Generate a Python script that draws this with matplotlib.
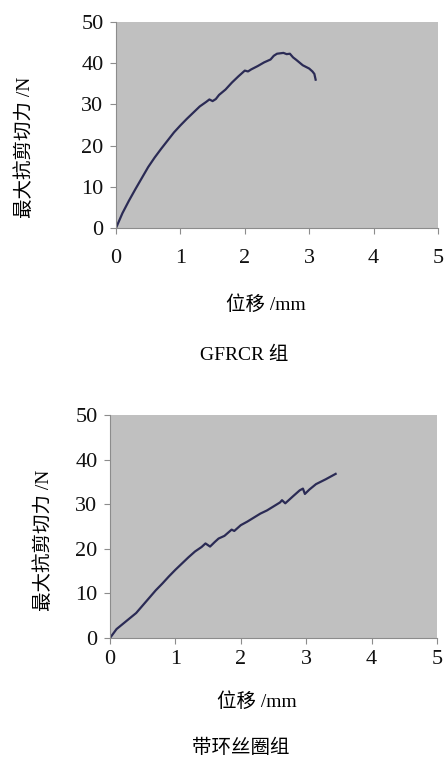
import numpy as np
import matplotlib
matplotlib.use('Agg')
import matplotlib.pyplot as plt

plt.rcParams['font.family'] = ['Liberation Serif', 'Noto Sans CJK SC']

# GFRCR group (displacement mm, shear force N)
x_gfrcr = [0, 0.05, 0.1, 0.2, 0.3, 0.4, 0.5, 0.6, 0.7, 0.8, 0.9, 1.0, 1.1, 1.2, 1.3,
           1.4, 1.45, 1.5, 1.55, 1.6, 1.7, 1.8, 1.9, 2.0, 2.05, 2.1, 2.2, 2.3, 2.4,
           2.45, 2.5, 2.6, 2.65, 2.7, 2.75, 2.8, 2.9, 3.0, 3.05, 3.08, 3.1]
y_gfrcr = [0, 1.8, 3.6, 6.6, 9.4, 12.1, 14.8, 17.1, 19.2, 21.2, 23.2, 24.9, 26.5, 28.0, 29.5,
           30.6, 31.2, 30.8, 31.3, 32.3, 33.6, 35.3, 36.8, 38.2, 38.0, 38.5, 39.3, 40.2, 40.9,
           41.8, 42.3, 42.5, 42.2, 42.3, 41.4, 40.8, 39.5, 38.7, 38.0, 37.4, 36.0]

# loop-wire group
x_loop = [0, 0.05, 0.1, 0.2, 0.3, 0.4, 0.5, 0.6, 0.7, 0.8, 0.9, 1.0, 1.1, 1.2, 1.3,
          1.4, 1.46, 1.53, 1.6, 1.66, 1.75, 1.86, 1.9, 2.0, 2.1, 2.2, 2.3, 2.4, 2.5,
          2.6, 2.63, 2.68, 2.8, 2.9, 2.95, 2.98, 3.05, 3.15, 3.3, 3.45]
y_loop = [0, 1.0, 2.0, 3.2, 4.4, 5.6, 7.3, 9.0, 10.7, 12.2, 13.8, 15.3, 16.7, 18.1, 19.4,
          20.4, 21.2, 20.5, 21.5, 22.3, 22.9, 24.3, 24.0, 25.3, 26.1, 27.0, 27.9, 28.6, 29.5,
          30.4, 30.9, 30.2, 31.8, 33.1, 33.5, 32.3, 33.3, 34.5, 35.6, 36.8]

xticks = [0, 1, 2, 3, 4, 5]
yticks = [0, 10, 20, 30, 40, 50]

fig = plt.figure(figsize=(4.44, 7.62), dpi=100)

def setup(ax, xs, ys, xpad):
    ax.set_facecolor('#c0c0c0')
    ax.plot(xs, ys, color='#2b2b55', lw=1.6)
    ax.set_xlim(0, 5)
    ax.set_ylim(0, 50)
    ax.set_xticks(xticks)
    ax.set_yticks(yticks)
    for s in ['top', 'right']:
        ax.spines[s].set_visible(False)
    for s in ['left', 'bottom']:
        ax.spines[s].set_color('#8c8c8c')
    ax.tick_params(direction='out', length=4, color='#8c8c8c', labelsize=16,
                   labelcolor='#111111')
    ax.tick_params(axis='x', pad=xpad)
    ax.tick_params(axis='y', pad=5)

ax1 = fig.add_axes([116/444, 1-228/762, 322/444, 206/762])
setup(ax1, x_gfrcr, y_gfrcr, 11)
ax2 = fig.add_axes([110/444, 1-638/762, 327/444, 223/762])
setup(ax2, x_loop, y_loop, 5)

fs = 14
fig.text(25/444, 1-147/762, '最大抗剪切力 /N', rotation=90, ha='center', va='center', fontsize=fs)
fig.text(266/444, 1-305/762, '位移 /mm', ha='center', va='center', fontsize=fs)
fig.text(244/444, 1-355/762, 'GFRCR 组', ha='center', va='center', fontsize=fs)
fig.text(44/444, 1-540/762, '最大抗剪切力 /N', rotation=90, ha='center', va='center', fontsize=fs)
fig.text(257/444, 1-702/762, '位移 /mm', ha='center', va='center', fontsize=fs)
fig.text(241/444, 1-748/762, '带环丝圈组', ha='center', va='center', fontsize=fs)

plt.savefig('out.png', dpi=100)
